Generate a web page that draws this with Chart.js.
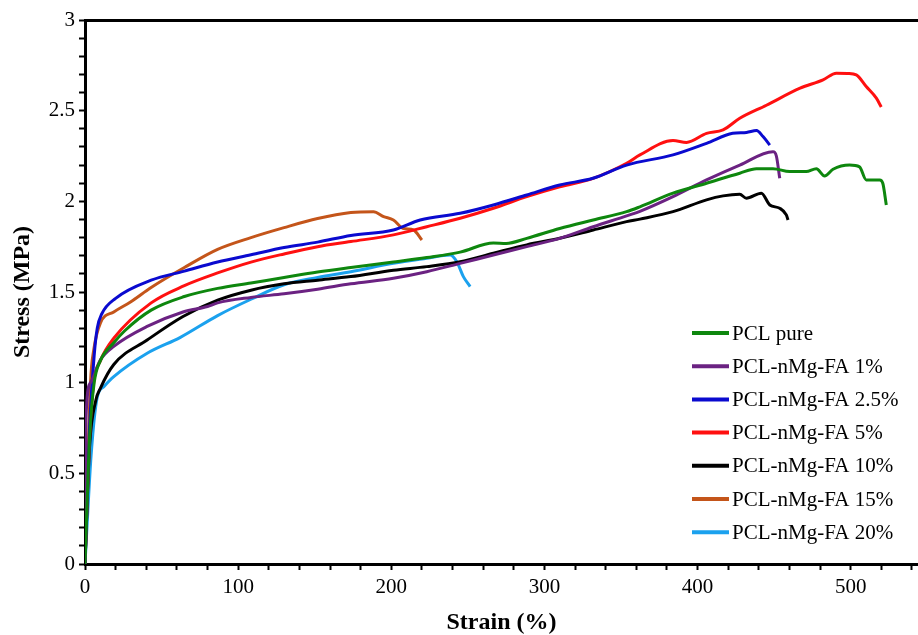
<!DOCTYPE html>
<html>
<head>
<meta charset="utf-8">
<script src="https://cdn.jsdelivr.net/npm/chart.js@4.4.0/dist/chart.umd.min.js"></script>
<style>
  body { margin: 0; background: #fff; overflow: hidden; }
</style>
</head>
<body>
<canvas id="stressChart" width="918" height="635"></canvas>
<script>
// Series names and colours (legend order)
let seriesNames = ["PCL pure", "PCL-nMg-FA 1%", "PCL-nMg-FA 2.5%", "PCL-nMg-FA 5%", "PCL-nMg-FA 10%", "PCL-nMg-FA 15%", "PCL-nMg-FA 20%"];
let colors = ["#0E870E", "#6B2282", "#0A0ACF", "#FF1010", "#000000", "#C4551A", "#1BA1EE"];

// Strain (%) / stress (MPa)
let strainPure = [0, 3, 6, 10, 18.8, 25.8, 43.2, 64.9, 86.6, 108.4, 130, 151.9, 173.6, 201.4, 223.2, 245, 266.7, 275, 288.5, 310, 331.9, 353.7, 362.4, 384, 405.9, 427.6, 438.5, 449.3, 460.2, 471, 477.6, 483, 488.5, 499.3, 505.8, 510.2, 519, 521, 523.3];
let stressPure = [0, 0.7, 1.0, 1.12, 1.22, 1.285, 1.40, 1.475, 1.52, 1.55, 1.58, 1.61, 1.635, 1.665, 1.69, 1.72, 1.77, 1.768, 1.796, 1.85, 1.897, 1.943, 1.97, 2.045, 2.10, 2.155, 2.18, 2.18, 2.164, 2.164, 2.18, 2.14, 2.177, 2.20, 2.19, 2.118, 2.118, 2.10, 1.98];

let strain1 = [0, 0.6, 3.6, 10, 18.8, 40.6, 64, 80, 86.6, 108.4, 130, 151.9, 173.6, 201.4, 223.2, 245, 266.7, 288.5, 310, 331.9, 353.7, 362.4, 384, 405.9, 427.6, 449.3, 451.5, 453.7];
let stress1 = [0, 0.8, 1.0, 1.125, 1.2, 1.31, 1.39, 1.42, 1.44, 1.47, 1.49, 1.515, 1.545, 1.576, 1.612, 1.658, 1.704, 1.75, 1.796, 1.86, 1.92, 1.945, 2.026, 2.118, 2.2, 2.274, 2.25, 2.127];

let strain25 = [0, 3, 6, 8, 11, 20, 43.2, 64.9, 86.6, 108.4, 130, 151.9, 173.6, 201.4, 218.9, 245, 266.7, 288.5, 310, 331.7, 353.7, 384, 405.9, 423, 432, 438.5, 442.8, 447.2];
let stress25 = [0, 0.75, 1.15, 1.3, 1.38, 1.465, 1.565, 1.615, 1.665, 1.705, 1.745, 1.775, 1.812, 1.842, 1.897, 1.934, 1.98, 2.035, 2.09, 2.127, 2.2, 2.256, 2.32, 2.375, 2.38, 2.39, 2.357, 2.31];

let strain5 = [0, 3, 5.7, 10, 18.8, 43.2, 64.9, 86.6, 108.4, 130, 151.9, 173.6, 201.4, 223.2, 245, 266.7, 288.5, 310, 331.9, 353.7, 362.4, 384, 392.8, 405.9, 416.7, 427.6, 445, 467, 482, 490.7, 498, 503.7, 510.2, 516.8, 520];
let stress5 = [0, 0.7, 1.0, 1.12, 1.245, 1.44, 1.535, 1.605, 1.665, 1.71, 1.75, 1.778, 1.815, 1.86, 1.907, 1.962, 2.026, 2.08, 2.127, 2.21, 2.256, 2.335, 2.325, 2.375, 2.394, 2.458, 2.53, 2.624, 2.67, 2.707, 2.705, 2.697, 2.633, 2.569, 2.52];

let strain10 = [0, 3, 7, 10.1, 18.8, 40.6, 64, 86.6, 108.4, 130, 151.9, 173.6, 201.4, 223.2, 245, 266.7, 288.5, 310, 331.9, 353.7, 362.4, 384, 405.9, 416.7, 427.6, 431.9, 441.7, 447.2, 453.7, 458, 459.1];
let stress10 = [0, 0.65, 0.9, 0.97, 1.1, 1.235, 1.365, 1.455, 1.51, 1.545, 1.565, 1.585, 1.62, 1.64, 1.667, 1.714, 1.76, 1.796, 1.842, 1.888, 1.902, 1.943, 2.008, 2.03, 2.039, 2.017, 2.045, 1.98, 1.962, 1.925, 1.897];

let strain15 = [0, 3.6, 5.7, 10.1, 18.8, 29.7, 43.2, 64.9, 86.6, 108.4, 130, 151.9, 173.6, 188.4, 195, 201.4, 208, 214.5, 220];
let stress15 = [0, 1.0, 1.18, 1.33, 1.39, 1.445, 1.525, 1.635, 1.735, 1.8, 1.855, 1.905, 1.938, 1.943, 1.916, 1.897, 1.85, 1.842, 1.787];

let strain20 = [0, 4, 8, 12.3, 18.8, 40.6, 62.3, 86.6, 108.4, 130, 151.9, 173.6, 201.4, 223.2, 238.4, 242.8, 247.1, 251.5];
let stress20 = [0, 0.6, 0.92, 0.978, 1.033, 1.162, 1.25, 1.37, 1.46, 1.54, 1.58, 1.612, 1.658, 1.686, 1.704, 1.667, 1.585, 1.53];

let strainSets = [strainPure, strain1, strain25, strain5, strain10, strain15, strain20];
let stressSets = [stressPure, stress1, stress25, stress5, stress10, stress15, stress20];

// Axis ticks
let xMax = 544, xMinorStep = 20, xMajorStep = 100;
let yMax = 3, yMinorStep = 0.1, yMajorStep = 0.5;

const serif = "'Liberation Serif', 'Times New Roman', serif";

function isMajor(v, step){
  let r = v / step;
  return Math.abs(r - Math.round(r)) < 1e-6;
}

// Legend drawn inside the plot, bottom right
const insideLegend = {
  id: "insideLegend",
  afterDraw(chart){
    const ctx = chart.ctx;
    const area = chart.chartArea;
    let left = area.right - 226;
    let top = area.bottom - 231;
    ctx.save();
    ctx.font = "21px " + serif;
    ctx.textBaseline = "middle";
    ctx.fillStyle = "#000";
    chart.data.datasets.forEach((ds, i) => {
      let y = top + i * 33.2;
      ctx.strokeStyle = ds.borderColor;
      ctx.lineWidth = 4;
      ctx.beginPath();
      ctx.moveTo(left, y);
      ctx.lineTo(left + 37, y);
      ctx.stroke();
      ctx.fillText(ds.label, left + 40, y + 1);
    });
    ctx.restore();
  }
};

let datasets = [];
for(let i = 0; i < seriesNames.length; i++){
  datasets.push({
    label: seriesNames[i],
    data: strainSets[i].map((x, j) => ({ x: x, y: stressSets[i][j] })),
    borderColor: colors[i],
    backgroundColor: colors[i],
    borderWidth: 3,
    pointRadius: 0,
    cubicInterpolationMode: "monotone",
    fill: false
  });
}

new Chart(document.getElementById("stressChart").getContext("2d"), {
  type: "line",
  data: { datasets: datasets },
  options: {
    responsive: false,
    animation: false,
    devicePixelRatio: 1,
    layout: { padding: 0 },
    plugins: {
      legend: { display: false },
      tooltip: { enabled: false }
    },
    scales: {
      x: {
        type: "linear",
        min: 0,
        max: xMax,
        afterFit: (scale) => { scale.height = 71; },
        border: { display: true, color: "#000", width: 3 },
        grid: { display: true, drawOnChartArea: false, tickLength: 6, tickWidth: 2, tickColor: "#000" },
        ticks: {
          stepSize: xMinorStep,
          includeBounds: false,
          autoSkip: false,
          maxRotation: 0,
          padding: 5,
          color: "#000",
          font: { family: serif, size: 21 },
          callback: (v) => isMajor(v, xMajorStep) ? String(Math.round(v)) : ""
        },
        title: {
          display: true,
          text: "Strain (%)",
          color: "#000",
          font: { family: serif, size: 24, weight: "bold", lineHeight: 1 },
          padding: { top: 0, bottom: 0 }
        }
      },
      x2: {
        type: "linear",
        position: "top",
        min: 0,
        max: xMax,
        afterFit: (scale) => { scale.height = 20; },
        border: { display: true, color: "#000", width: 3 },
        grid: { display: false },
        ticks: { display: false }
      },
      y: {
        type: "linear",
        min: 0,
        max: yMax,
        afterFit: (scale) => { scale.width = 85; },
        border: { display: true, color: "#000", width: 3 },
        grid: { display: true, drawOnChartArea: false, tickLength: 6, tickWidth: 2, tickColor: "#000" },
        ticks: {
          stepSize: yMinorStep,
          autoSkip: false,
          padding: 4,
          color: "#000",
          font: { family: serif, size: 21 },
          callback: (v) => isMajor(v, yMajorStep) ? String(Math.round(v * 10) / 10) : ""
        },
        title: {
          display: true,
          text: "Stress (MPa)",
          color: "#000",
          font: { family: serif, size: 24, weight: "bold", lineHeight: 1 },
          padding: { top: 11, bottom: 0 }
        }
      }
    }
  },
  plugins: [insideLegend]
});
</script>
</body>
</html>
